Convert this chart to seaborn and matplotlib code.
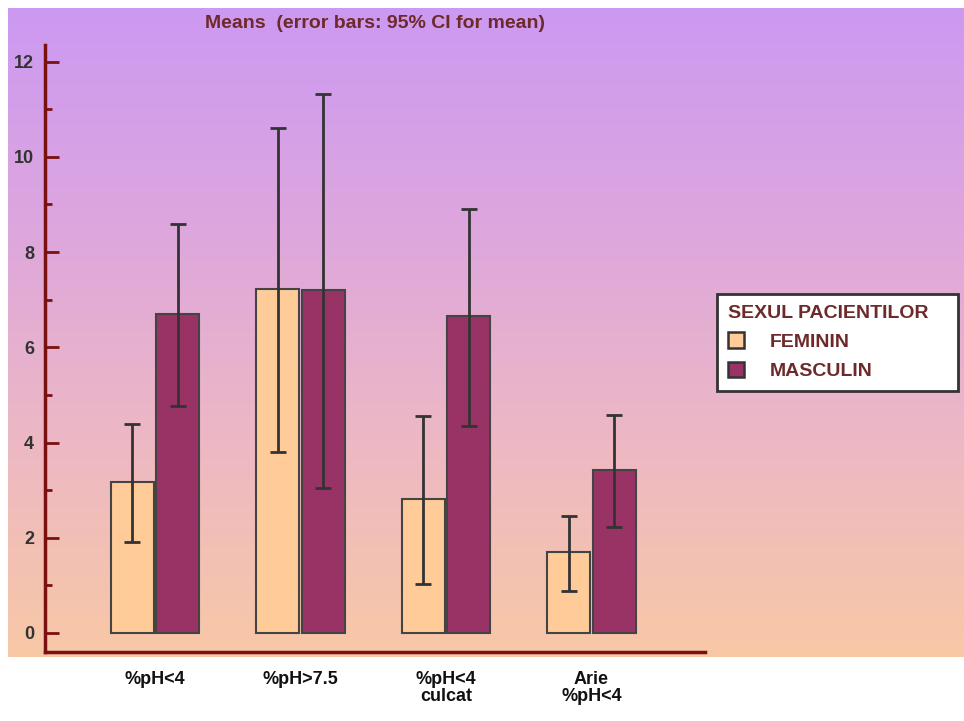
import numpy as np
import pandas as pd
import matplotlib
matplotlib.use("Agg")
import matplotlib.pyplot as plt
import seaborn as sns
from matplotlib.colors import LinearSegmentedColormap
from matplotlib.ticker import MultipleLocator
from matplotlib.patches import Patch

categories = ["%pH<4", "%pH>7.5", "%pH<4\nculcat", "Arie\n%pH<4"]
groups = ["FEMININ", "MASCULIN"]
feminin_mean = [3.17, 7.22, 2.82, 1.70]
masculin_mean = [6.70, 7.20, 6.65, 3.42]
feminin_low = [1.92, 3.80, 1.03, 0.88]
feminin_high = [4.38, 10.61, 4.56, 2.46]
masculin_low = [4.77, 3.05, 4.35, 2.23]
masculin_high = [8.60, 11.33, 8.90, 4.58]

sns.set_theme(style="white")
plt.rcParams["font.family"] = ["Liberation Sans Narrow", "Liberation Sans", "DejaVu Sans"]

W, H = 964, 721
fig = plt.figure(figsize=(W / 100, H / 100), dpi=100)
fig.patch.set_facecolor("white")

# gradient background
bg = fig.add_axes([8 / W, 1 - 657 / H, 956 / W, 649 / H], zorder=0)
cmap = LinearSegmentedColormap.from_list("bg", ["#CC99F2", "#DDA6DE", "#EDB8C4", "#F8C8A6"])
grad = np.linspace(0, 1, 256).reshape(-1, 1)
bg.imshow(grad, aspect="auto", cmap=cmap, extent=[0, 1, 0, 1], origin="upper")
bg.set_axis_off()

ax = fig.add_axes([45 / W, 1 - 652 / H, 660 / W, 607 / H], zorder=1)
ax.patch.set_alpha(0)

df = pd.DataFrame({
    "cat": categories * 2,
    "sex": [groups[0]] * 4 + [groups[1]] * 4,
    "val": feminin_mean + masculin_mean,
})
palette = {"FEMININ": "#FFCC99", "MASCULIN": "#993366"}
sns.barplot(data=df, x="cat", y="val", hue="sex", order=categories, hue_order=groups,
            palette=palette, width=0.63, gap=0.06, errorbar=None, saturation=1,
            edgecolor="#444444", linewidth=1.5, ax=ax, legend=False)

lows = [feminin_low, masculin_low]
highs = [feminin_high, masculin_high]
means = [feminin_mean, masculin_mean]
bar_containers = list(ax.containers)
for gi, cont in enumerate(bar_containers):
    xs = [p.get_x() + p.get_width() / 2 for p in cont.patches]
    m = np.array(means[gi])
    lo = m - np.array(lows[gi])
    hi = np.array(highs[gi]) - m
    ax.errorbar(xs, m, yerr=[lo, hi], fmt="none", ecolor="#333333",
                elinewidth=2, capsize=5.5, capthick=2, zorder=5)

ax.set_ylim(-0.4, 12.35)
ax.set_xlim(-0.756, 3.78)
ax.yaxis.set_major_locator(MultipleLocator(2))
ax.yaxis.set_minor_locator(MultipleLocator(1))
ax.tick_params(axis="y", which="major", direction="in", length=10, width=2,
               color="#7A1010", labelsize=13, labelcolor="#333333", pad=8, left=True)
ax.tick_params(axis="y", which="minor", direction="in", length=5, width=2,
               color="#7A1010", left=True)
for lab in ax.get_yticklabels():
    lab.set_fontweight("bold")
ax.tick_params(axis="x", length=0, labelsize=13, labelcolor="#111111", pad=14)
for lab in ax.get_xticklabels():
    lab.set_fontweight("bold")
    lab.set_horizontalalignment("center")
    lab.set_linespacing(1.0)
ax.set_xlabel("")
ax.set_ylabel("")
for s in ["top", "right"]:
    ax.spines[s].set_visible(False)
for s in ["left", "bottom"]:
    ax.spines[s].set_color("#7A1010")
    ax.spines[s].set_linewidth(2.5)

fig.text(375 / W, 1 - 24 / H, "Means  (error bars: 95% CI for mean)", ha="center", va="center",
         fontsize=14, fontweight="bold", color="#6E2A2A")

handles = [Patch(facecolor=palette[g], edgecolor="#333333", linewidth=1.8) for g in groups]
leg = fig.legend(handles, groups, title="SEXUL PACIENTILOR", loc="upper left",
                 bbox_to_anchor=(717 / W, 1 - 396 / H, 241 / W, 102 / H), mode="expand",
                 frameon=True, fancybox=False,
                 prop={"weight": "bold", "size": 14}, title_fontproperties={"weight": "bold", "size": 14},
                 handlelength=0.85, handleheight=0.85, handletextpad=1.3, borderpad=0.55,
                 labelspacing=0.55, alignment="left", borderaxespad=0)
leg.get_frame().set_edgecolor("#333333")
leg.get_frame().set_linewidth(2)
leg.get_frame().set_facecolor("white")
leg.get_frame().set_alpha(1)
leg.get_title().set_color("#6E2A2A")
for t in leg.get_texts():
    t.set_color("#6E2A2A")

fig.savefig("out.png", dpi=100)
